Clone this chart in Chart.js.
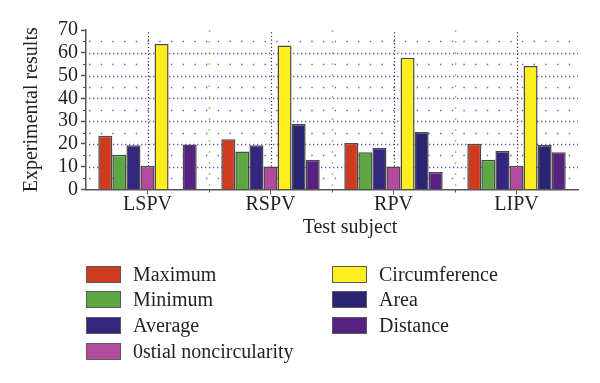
<!DOCTYPE html>
<html>
<head>
<meta charset="utf-8">
<script src="https://cdn.jsdelivr.net/npm/chart.js@4"></script>
<style>
  body { margin: 0; background: #fff; }
  #wrap { position: relative; width: 600px; height: 383px; }
  #legend { position: absolute; left: 0; top: 0; font-family: "Liberation Serif", serif; font-size: 20px; color: #231f20; }
  .item { position: absolute; white-space: nowrap; }
  .box { position: absolute; width: 33px; height: 15px; border: 1px solid #5a5a5a; }
  .lbl { position: absolute; line-height: 20px; }
</style>
</head>
<body>
<div id="wrap">
  <canvas id="chart" width="600" height="383"></canvas>
  <div id="legend"></div>
</div>
<script>
const categories = ["LSPV", "RSPV", "RPV", "LIPV"];

const maximum = [23.6, 22.0, 20.4, 20.1];
const minimum = [15.2, 16.7, 16.4, 13.1];
const average = [19.4, 19.4, 18.3, 16.9];
const ostial = [10.4, 10.1, 10.1, 10.4];
const circumference = [63.9, 63.2, 57.8, 54.2];
const area = [null, 28.8, 25.2, 19.5];
const distance = [19.7, 13.1, 7.7, 16.4];

const seriesNames = ["Maximum", "Minimum", "Average", "0stial noncircularity", "Circumference", "Area", "Distance"];
const seriesColors = ["#cf3b1f", "#5ea843", "#33267f", "#b24a9e", "#ffee1e", "#2b2473", "#572181"];

const yMin = 0;
const yMax = 70;
const yStep = 10;
const xTitle = "Test subject";

const font = "Liberation Serif";
const textColor = "#231f20";
const axisColor = "#555";

// dotted grid, minor ticks, category guides, x title
const gridPlugin = {
  id: "dotGrid",
  beforeDatasetsDraw(chart) {
    const ctx = chart.ctx;
    const area = chart.chartArea;
    const x = chart.scales.x;
    const y = chart.scales.y;
    ctx.save();

    // horizontal dotted lines every 5
    for (let v = 5; v < yMax; v += 5) {
      const py = Math.round(y.getPixelForValue(v)) + 0.5;
      ctx.lineWidth = 1.4;
      ctx.strokeStyle = "#6360d0";
      ctx.setLineDash(v % 10 === 0 ? [1.4, 2.6] : [1.4, 10.3]);
      ctx.beginPath();
      ctx.moveTo(area.left + 3, py);
      ctx.lineTo(area.right, py);
      ctx.stroke();

      // minor tick
      if (v % 10 !== 0) {
        ctx.lineWidth = 1;
        ctx.setLineDash([]);
        ctx.strokeStyle = axisColor;
        ctx.beginPath();
        ctx.moveTo(area.left - 3, py);
        ctx.lineTo(area.left, py);
        ctx.stroke();
      }
    }

    const top = y.getPixelForValue(69);
    const step = x.getPixelForValue(1) - x.getPixelForValue(0);
    for (let i = 0; i < categories.length; i++) {
      const cx = Math.round(x.getPixelForValue(i)) + 0.5;
      ctx.lineWidth = 1.2;
      ctx.strokeStyle = "#333";
      ctx.setLineDash([1.2, 2.4]);
      ctx.beginPath();
      ctx.moveTo(cx, top);
      ctx.lineTo(cx, area.bottom);
      ctx.stroke();

      if (i > 0) {
        const bx = Math.round(x.getPixelForValue(i) - step / 2) + 0.5;
        ctx.strokeStyle = "#a3a83c";
        ctx.lineWidth = 1.5;
        ctx.setLineDash([1.5, 9.5]);
        ctx.beginPath();
        ctx.moveTo(bx, top - 2);
        ctx.lineTo(bx, area.bottom);
        ctx.stroke();
        ctx.lineWidth = 1;
        ctx.setLineDash([]);
        ctx.strokeStyle = axisColor;
        ctx.beginPath();
        ctx.moveTo(bx, area.bottom);
        ctx.lineTo(bx, area.bottom + 3);
        ctx.stroke();
      }
    }
    ctx.restore();
  },
  afterDraw(chart) {
    // x title sits a little right of the plot centre in the original
    const ctx = chart.ctx;
    const area = chart.chartArea;
    ctx.save();
    ctx.font = "20px '" + font + "'";
    ctx.fillStyle = textColor;
    ctx.textAlign = "center";
    ctx.textBaseline = "alphabetic";
    ctx.fillText(xTitle, (area.left + area.right) / 2 + 18, 233);
    ctx.restore();
  }
};

const seriesData = [maximum, minimum, average, ostial, circumference, area, distance];

new Chart(document.getElementById("chart"), {
  type: "bar",
  data: {
    labels: categories,
    datasets: seriesNames.map((name, i) => ({
      label: name,
      data: seriesData[i],
      backgroundColor: seriesColors[i],
      borderColor: "#4a4a4a",
      borderWidth: 1.5,
      categoryPercentage: 0.8,
      barPercentage: 1.0
    }))
  },
  options: {
    responsive: false,
    animation: false,
    layout: { padding: { left: 0, right: 22, top: 30, bottom: 143.5 } },
    plugins: {
      legend: { display: false },
      tooltip: { enabled: false }
    },
    scales: {
      x: {
        grid: { offset: false, drawOnChartArea: false, tickLength: 5, tickColor: axisColor, tickWidth: 1 },
        border: { color: axisColor, width: 1.5 },
        ticks: { padding: -2, color: textColor, font: { family: font, size: 20 } },
        afterFit(scale) { scale.height = 50; }
      },
      y: {
        min: yMin,
        max: yMax,
        ticks: { stepSize: yStep, autoSkip: false, padding: 3, color: textColor, font: { family: font, size: 20 } },
        grid: { drawOnChartArea: false, tickLength: 5, tickColor: axisColor, tickWidth: 1.5 },
        border: { color: axisColor, width: 1.5 },
        title: { display: true, text: "Experimental results", color: textColor, font: { family: font, size: 20 }, padding: { top: 20, bottom: 0 } },
        afterFit(scale) { scale.width = 86; }
      }
    }
  },
  plugins: [gridPlugin]
});

// legend in two columns
const legend = document.getElementById("legend");
const legendCols = [86, 332];
const legendRows = [266, 291, 317, 343];
seriesNames.forEach((name, i) => {
  const col = i < 4 ? 0 : 1;
  const row = i < 4 ? i : i - 4;
  const item = document.createElement("div");
  item.className = "item";
  item.style.left = legendCols[col] + "px";
  item.style.top = legendRows[row] + "px";
  item.innerHTML = `<div class="box" style="background:${seriesColors[i]}"></div>` +
    `<div class="lbl" style="left:47px;top:-2px">${name}</div>`;
  legend.appendChild(item);
});
</script>
</body>
</html>
